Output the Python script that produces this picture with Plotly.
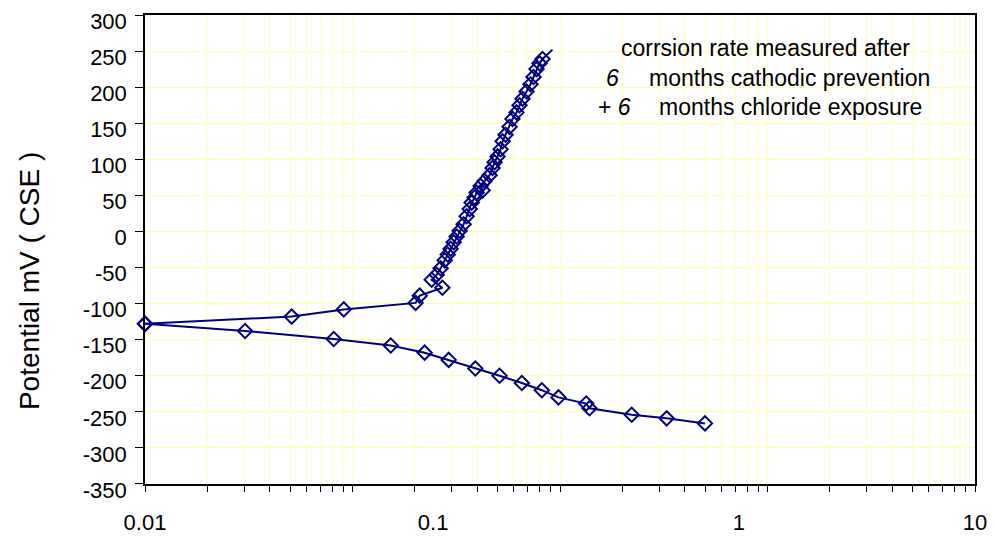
import plotly.graph_objects as go

# ---- data ----
cathodic_current = [0.01, 0.0230, 0.0481, 0.0773, 0.1025, 0.1252, 0.1563, 0.1912,
                    0.2302, 0.2719, 0.3123, 0.3932, 0.4042, 0.5743, 0.7684, 1.057]
cathodic_potential = [-128, -138, -149, -158, -168, -178, -190, -200,
                      -210, -220, -230, -238.5, -245, -254, -259, -266]

anodic_current = [0.01, 0.0339, 0.0523, 0.0951, 0.0984, 0.1188, 0.1087, 0.1133,
                  0.1171, 0.1211, 0.1242, 0.1273, 0.1305, 0.1338, 0.1372, 0.1418,
                  0.1454, 0.1491, 0.1516, 0.1554, 0.1580, 0.1661, 0.1633, 0.1688,
                  0.1760, 0.1804, 0.1834, 0.1881, 0.1929, 0.1961, 0.2010, 0.2078,
                  0.2130, 0.2203, 0.2258, 0.2315, 0.2393, 0.2474, 0.2536, 0.2601,
                  0.2667, 0.2734, 0.2971]
anodic_potential = [-128, -118, -108, -99, -89, -78, -67, -60,
                    -51, -40, -32, -24, -15, -7, 1, 10,
                    21, 31, 40, 47, 54, 57, 63, 70,
                    78, 88, 96, 104, 114, 125, 134, 145,
                    156, 165, 175, 184, 194, 204, 214, 225,
                    233, 239, 252]
anodic_marked = [True] * (len(anodic_current) - 1) + [False]

x_tick_vals = [0.01, 0.11, 1.4, 10]
x_tick_text = ["0.01", "0.1", "1", "10"]
y_tick_vals = list(range(-350, 301, 50))
y_tick_text = [str(v) for v in y_tick_vals]

note_line1 = "corrsion rate measured after"
note_line2_num = "<i>6</i>"
note_line2_txt = "months cathodic prevention"
note_line3_num = "+ <i>6</i>"
note_line3_txt = "months chloride exposure"
y_title = "Potential mV ( CSE )"

# ---- styling ----
NAVY = "#000080"
XGRID = "#FFFFC0"
YGRID = "#FFFFA0"
FONT = "Liberation Sans, Arial, sans-serif"

fig = go.Figure()

marker_style = dict(symbol="diamond-open", size=11, color=NAVY,
                    line=dict(color=NAVY, width=2))

fig.add_trace(go.Scatter(
    x=cathodic_current, y=cathodic_potential, mode="lines+markers",
    line=dict(color=NAVY, width=2), marker=marker_style,
    cliponaxis=False, showlegend=False))

fig.add_trace(go.Scatter(
    x=anodic_current, y=anodic_potential, mode="lines+markers",
    line=dict(color=NAVY, width=2),
    marker=dict(marker_style, opacity=[1 if m else 0 for m in anodic_marked]),
    cliponaxis=False, showlegend=False))

# empty trace so the log-grid overlay axis is rendered
fig.add_trace(go.Scatter(x=[], y=[], xaxis="x2", yaxis="y",
                         showlegend=False, hoverinfo="skip"))

fig.update_layout(
    width=996, height=544,
    margin=dict(l=145, r=20, t=9, b=57),
    paper_bgcolor="white", plot_bgcolor="white",
    font=dict(family=FONT, size=22, color="black"),
    xaxis=dict(
        type="log", range=[-2, 1],
        showgrid=False, zeroline=False,
        showline=True, mirror=True, linecolor="black", linewidth=1.5,
        ticks="", tickvals=x_tick_vals, ticktext=x_tick_text,
        ticklabelstandoff=18,
        tickfont=dict(family=FONT, size=22, color="black"),
    ),
    xaxis2=dict(
        type="log", range=[-2, 2], overlaying="x", anchor="y", side="bottom",
        dtick="D1", showticklabels=False,
        showgrid=True, gridcolor=XGRID, gridwidth=1,
        ticks="outside", ticklen=7, tickcolor="black", tickwidth=1,
        showline=False, zeroline=False,
    ),
    yaxis=dict(
        range=[-350.01, 300.01], tickvals=y_tick_vals, ticktext=y_tick_text,
        showgrid=True, gridcolor=YGRID, gridwidth=1, zeroline=False,
        showline=True, mirror=True, linecolor="black", linewidth=1.5,
        ticks="outside", ticklen=8, tickcolor="black", tickwidth=1,
        ticklabelshift=6, ticklabelstandoff=4,
        tickfont=dict(family=FONT, size=22, color="black"),
    ),
)

ann_font = dict(family=FONT, size=23, color="black")
fig.add_annotation(text=note_line1, xref="paper", yref="paper",
                   x=0.7473, y=0.929, xanchor="center", yanchor="middle",
                   showarrow=False, font=ann_font)
fig.add_annotation(text=note_line2_num, xref="paper", yref="paper",
                   x=0.5632, y=0.866, xanchor="center", yanchor="middle",
                   showarrow=False, font=ann_font)
fig.add_annotation(text=note_line2_txt, xref="paper", yref="paper",
                   x=0.6053, y=0.866, xanchor="left", yanchor="middle",
                   showarrow=False, font=ann_font)
fig.add_annotation(text=note_line3_num, xref="paper", yref="paper",
                   x=0.5656, y=0.8035, xanchor="center", yanchor="middle",
                   showarrow=False, font=ann_font)
fig.add_annotation(text=note_line3_txt, xref="paper", yref="paper",
                   x=0.6173, y=0.8035, xanchor="left", yanchor="middle",
                   showarrow=False, font=ann_font)
fig.add_annotation(text=y_title, xref="paper", yref="paper",
                   x=-0.1384, y=0.433, xanchor="center", yanchor="middle",
                   textangle=-90, showarrow=False,
                   font=dict(family=FONT, size=28, color="black"))

fig.write_html("out.html")
